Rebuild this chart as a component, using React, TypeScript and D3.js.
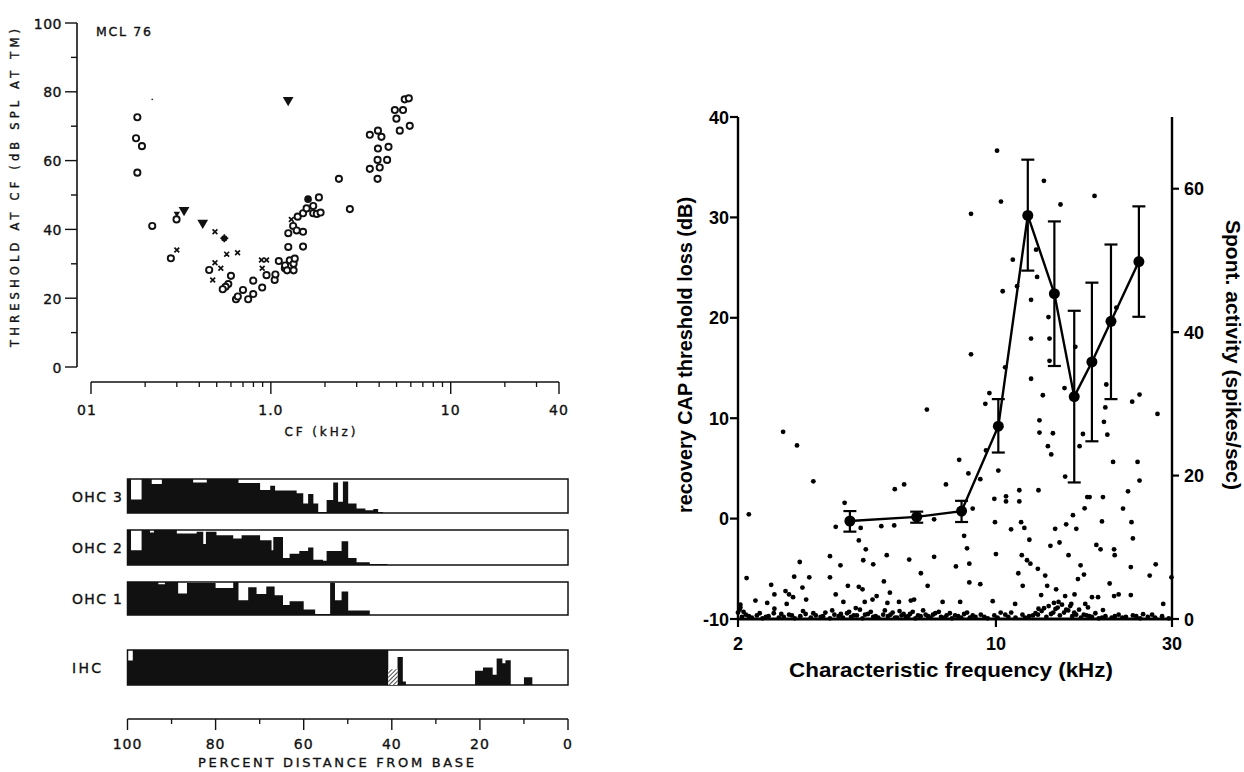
import React from "react";
import * as d3 from "d3";

// ================= Panel A: threshold at CF (MCL 76) =================
const openCircles: [number, number][] = [
  [0.181, 72.6], [0.178, 66.5], [0.192, 64.2], [0.181, 56.5], [0.219, 41.0], [0.299, 42.9],
  [0.278, 31.6], [0.454, 28.2], [0.6, 26.5], [0.58, 24.1], [0.56, 23.3], [0.54, 22.6],
  [0.64, 19.7], [0.655, 20.5], [0.7, 22.4], [0.748, 19.7], [0.798, 21.2], [0.798, 25.1],
  [0.895, 23.1], [0.946, 26.7], [1.05, 25.3], [1.06, 26.9], [1.107, 30.8], [1.196, 28.7],
  [1.2, 29.5], [1.231, 28.1], [1.274, 31.0], [1.25, 34.9], [1.25, 38.9], [1.338, 28.1],
  [1.338, 30.0], [1.358, 31.5], [1.33, 41.0], [1.392, 39.7], [1.41, 43.7], [1.51, 39.3],
  [1.51, 35.0], [1.51, 44.7], [1.58, 46.1], [1.72, 46.8], [1.72, 44.7], [1.8, 44.5],
  [1.89, 44.9], [1.85, 49.3], [2.39, 54.7], [2.75, 45.9], [3.55, 67.5], [3.94, 68.7],
  [4.12, 66.9], [3.94, 63.5], [4.51, 64.0], [3.92, 60.2], [4.43, 60.2], [3.55, 57.6],
  [4.03, 58.0], [3.92, 54.7], [4.89, 74.7], [5.43, 74.7], [4.99, 72.2], [5.21, 68.7],
  [5.92, 70.1], [5.55, 77.8], [5.85, 78.1],
];
const crosses: [number, number][] = [
  [0.3, 34.0], [0.489, 39.3], [0.568, 32.8], [0.653, 33.2], [0.475, 25.3], [0.489, 30.3],
  [0.527, 28.7], [0.887, 31.1], [0.946, 31.1], [0.895, 28.7], [1.3, 42.9],
];
const stars: [number, number][] = [[0.551, 37.4]];
const triangles: [number, number][] = [[0.329, 45.6], [0.418, 41.9], [1.248, 77.6], [0.3, 44.6]];
const filledCircles: [number, number][] = [[1.61, 48.8]];
const specks: [number, number][] = [[0.219, 77.8]];

const cfMajorTicks = [0.1, 1, 10, 40];
const cfMajorLabels = ["01", "1.0", "10", "40"];
const cfMinorTicks = [0.2, 0.3, 0.4, 0.5, 0.6, 0.7, 0.8, 0.9, 2, 3, 4, 5, 6, 7, 8, 9, 20, 30];
const thrTicks = [0, 10, 20, 30, 40, 50, 60, 70, 80, 90, 100];
const thrLabels = [0, 20, 40, 60, 80, 100];

// ================= Panel A lower: cochleogram =================
const ohc3Edges = [100, 99.2, 96.8, 94.5, 92.2, 85.1, 82.0, 74.8, 69.9, 67.6, 66.5, 61.6, 60.1, 59.0, 57.8, 56.7, 54.8, 53.3, 52.2, 51.1, 49.9, 48.0, 46.0, 44.2, 43.1, 42.0];
const ohc3Levels = [1.0, 0.4, 1.0, 0.85, 1.0, 0.9, 1.0, 0.88, 0.68, 0.8, 0.66, 0.58, 0.28, 0.56, 0.28, 0.03, 0.38, 0.9, 0.33, 0.93, 0.28, 0.13, 0.08, 0.12, 0.03];
const ohc2Edges = [100, 99.2, 96.8, 94.9, 94.0, 88.8, 84.3, 82.8, 82.2, 79.8, 76.0, 74.1, 69.9, 67.3, 66.9, 64.7, 63.2, 61.0, 59.0, 57.8, 55.6, 54.8, 51.4, 49.9, 48.0, 45.0, 41.0];
const ohc2Levels = [1.0, 0.42, 1.0, 0.93, 1.0, 0.9, 0.95, 0.6, 0.95, 0.85, 0.76, 0.85, 0.71, 0.42, 0.8, 0.2, 0.32, 0.4, 0.5, 0.15, 0.12, 0.4, 0.68, 0.2, 0.08, 0.03];
const ohc1Edges = [100, 93, 91.5, 88.5, 86.5, 80, 76, 74.8, 72.6, 70.7, 68.5, 66.6, 64.7, 63.2, 60, 57.4, 54, 52.9, 51.4, 49.9, 45];
const ohc1Levels = [1.0, 0.93, 1.0, 0.65, 0.97, 0.82, 1.0, 0.45, 0.84, 0.64, 0.86, 0.6, 0.3, 0.42, 0.17, 0.03, 0.98, 0.45, 0.71, 0.14];
const ihcEdges = [100, 98.8, 40.8, 38.7, 37.5, 36.8, 21.1, 19.3, 17.1, 16.2, 14.9, 14.2, 13.0, 10.0, 8.1];
const ihcLevels = [0.7, 1.0, 0, 0.8, 0.1, 0, 0.41, 0.5, 0.29, 0.76, 0.62, 0.71, 0, 0.22];
const ihcHatch: [number, number, number][] = [[40.8, 38.7, 0.45]];
const pctMajor = [100, 80, 60, 40, 20, 0];
const pctMinor = [90, 70, 50, 30, 10];

// ================= Panel B: recovery CAP loss / spont activity =================
const meanFreq = [4.02, 6.1, 8.07, 10.15, 12.2, 14.4, 16.3, 18.2, 20.5, 24.4];
const meanLoss = [-0.24, 0.17, 0.75, 9.21, 30.2, 22.4, 12.15, 15.6, 19.65, 25.6];
const errHigh = [0.75, 0.69, 1.77, 11.9, 35.75, 29.6, 20.7, 23.5, 27.3, 31.1];
const errLow = [-1.3, -0.41, -0.34, 6.58, 24.7, 15.2, 3.6, 7.7, 11.9, 20.1];

const spontLow: [number, number][] = [
  [2.11, 5.71], [2.14, 14.6], [2.03, 2.0], [2.03, 1.6], [2.23, 2.57], [2.4, 2.24], [2.46, 4.76], [2.51, 3.43],
  [2.51, 1.43], [2.65, 26.1], [2.69, 3.9], [2.71, 2.1], [2.75, 3.43], [2.82, 3.05], [2.84, 5.9], [2.89, 24.2],
  [2.94, 7.95], [2.99, 4.38], [3.06, 2.71], [3.12, 5.81], [3.2, 19.2], [3.55, 8.76], [3.55, 5.81], [3.68, 3.43],
  [3.68, 12.86], [3.79, 7.48], [3.89, 16.2], [3.86, 2.38], [3.97, 4.62], [4.17, 1.52], [4.25, 10.95], [4.25, 4.48],
  [4.3, 12.7], [4.35, 4.14], [4.37, 8.19], [4.44, 9.71], [4.41, 2.38], [4.63, 2.71], [4.65, 7.62], [4.75, 3.19],
  [4.89, 12.95], [4.97, 5.24], [5.06, 8.9], [5.08, 2.24], [5.16, 3.67], [5.3, 13.05], [5.32, 18.1], [5.46, 2.38],
  [5.64, 18.76], [5.82, 8.29], [5.88, 2.57], [6.0, 2.71], [6.26, 6.38], [6.5, 29.2], [6.53, 4.62], [6.8, 8.67],
  [6.8, 13.9], [7.17, 2.38], [7.32, 18.76], [7.79, 7.33], [7.95, 22.2], [8.0, 2.38], [8.2, 11.6], [8.35, 9.86],
  [8.42, 20.3], [8.47, 7.71], [8.47, 5.1],
];
const spontHigh: [number, number][] = [
  [8.56, 36.9], [8.65, 15.4], [8.56, 56.5], [9.07, 19.5], [9.07, 4.86], [9.36, 30], [9.4, 23.5], [9.6, 31.5],
  [9.8, 2.48], [9.9, 16.76], [9.94, 13.5], [10.0, 9.05], [10.07, 65.3], [10.15, 20.7], [10.32, 58.2], [10.43, 45.7],
  [10.65, 17.1], [10.65, 16.4], [10.59, 35.1], [10.99, 12.5], [11.11, 50.1], [11.27, 2.1], [11.41, 46.4], [11.57, 17.95],
  [11.57, 16.4], [11.75, 8.9], [11.7, 13.5], [11.82, 4.62], [11.5, 6.38], [11.94, 12.7], [12.14, 8.19], [12.4, 7.71],
  [12.45, 33.5], [12.45, 44.5], [12.45, 39.1], [12.32, 11.05], [12.85, 51.5], [12.93, 47.7], [12.99, 7.0], [13.04, 1.43],
  [13.04, 17.95], [13.12, 27.7], [13.12, 26.0], [13.26, 3.33], [13.4, 31.2], [13.49, 61.1], [13.6, 6.05], [13.77, 4.62],
  [13.83, 24.1], [13.88, 42.1], [13.97, 39.1], [13.97, 36.0], [14.05, 10.2], [14.12, 22.95], [14.27, 25.9], [14.36, 2.24],
  [14.47, 12.57], [14.56, 4.14], [14.87, 10.67], [14.78, 2.38], [14.96, 57.8], [15.34, 32.2], [15.4, 19.86], [15.5, 13.2],
  [15.4, 3.19], [15.73, 8.9], [16.0, 2.1], [16.17, 14.48], [16.33, 3.43], [16.51, 12.57], [16.41, 37.95], [16.68, 5.57],
  [16.85, 24.1], [16.96, 7.48], [17.21, 25.8], [17.32, 6.19], [17.39, 15.43], [17.68, 17.0], [17.46, 2.1], [17.76, 1.62],
  [17.94, 17.0], [18.21, 3.05], [18.71, 10.33], [18.91, 3.05], [19.21, 9.71], [19.38, 13.6], [19.5, 1.24], [19.5, 17.0],
  [19.62, 27.5], [19.79, 29.5], [19.91, 32.7], [20.04, 25.7], [20.33, 4.95], [20.77, 21.9], [20.9, 3.19], [20.9, 9.71],
  [20.98, 8.9], [21.2, 43.4], [21.5, 3.43], [22.1, 15.4], [22.8, 17.8], [23.2, 3.33], [23.2, 7.24], [23.3, 13.5],
  [23.5, 11.24], [23.4, 30.3], [24.2, 21.9], [24.5, 31.3], [24.5, 19.3], [25.05, 0.67], [26.1, 6.05], [27.1, 7.62],
  [27.4, 28.6], [28.4, 2.1], [29.9, 5.81], [18.5, 59.0],
];
const spontBaseline: [number, number][] = [
  [2.0, 0.9], [2.05, 0.3], [2.1, 0.6], [2.18, 0.2], [2.25, 0.5], [2.33, 0.1], [2.42, 0.4], [2.5, 0.8], [2.58, 0.2], [2.66, 0.3],
  [2.75, 0.6], [2.85, 0.1], [2.95, 0.4], [3.05, 0.7], [3.15, 0.2], [3.25, 0.5], [3.35, 0.3], [3.45, 0.9], [3.55, 0.1], [3.65, 0.6],
  [3.75, 0.4], [3.85, 0.2], [3.95, 0.8], [4.05, 0.3], [4.2, 0.5], [4.35, 0.1], [4.5, 0.7], [4.65, 0.3], [4.8, 0.2], [4.95, 0.6],
  [5.1, 0.4], [5.25, 0.9], [5.4, 0.2], [5.55, 0.5], [5.7, 0.3], [5.85, 0.7], [6.05, 0.1], [6.25, 0.4], [6.45, 0.6], [6.65, 0.2],
  [6.85, 0.8], [7.1, 0.3], [7.35, 0.5], [7.6, 0.1], [7.9, 0.4], [8.2, 0.7], [8.5, 0.2], [8.8, 0.3], [9.1, 0.6], [9.5, 0.1],
  [9.9, 0.5], [10.3, 0.9], [10.8, 0.3], [11.3, 0.2], [11.8, 0.6], [12.3, 0.4], [12.8, 0.8], [13.3, 1.1], [13.7, 0.3], [14.1, 0.7],
  [14.5, 1.4], [14.9, 0.5], [15.3, 0.9], [15.7, 1.2], [16.1, 0.4], [16.5, 0.6], [17.0, 0.2], [17.6, 0.5], [18.2, 0.3], [19.0, 0.1],
  [19.8, 0.4], [20.6, 0.2], [21.5, 0.6], [22.5, 0.3], [23.5, 0.5], [24.6, 0.1], [25.8, 0.3], [27.0, 0.2], [28.2, 0.4], [29.4, 0.1],
];
const spontBaseline2: [number, number][] = [
  [2.02, 1.3], [2.07, 1.0], [2.14, 0.4], [2.29, 0.8], [2.38, 0.3], [2.62, 0.7], [2.8, 0.5], [3.0, 1.1], [3.2, 0.8], [3.4, 0.4],
  [3.6, 1.2], [3.8, 0.7], [4.0, 1.0], [4.12, 0.5], [4.28, 1.3], [4.42, 0.6], [4.58, 1.0], [4.72, 0.4], [5.0, 1.2], [5.18, 0.6],
  [5.33, 0.2], [5.48, 1.1], [5.62, 0.7], [5.78, 0.4], [5.95, 1.0], [6.15, 0.5], [6.35, 1.2], [6.55, 0.4], [6.75, 0.6], [7.0, 1.0],
  [7.25, 0.2], [7.5, 0.8], [7.75, 0.5], [8.05, 0.2], [8.35, 0.9], [8.65, 0.5], [9.3, 0.3], [10.1, 0.2], [10.6, 0.6], [11.0, 0.9],
  [12.0, 0.2], [12.6, 0.5], [13.0, 0.6], [13.5, 1.5], [13.9, 1.8], [14.3, 0.9], [14.7, 1.6], [15.1, 2.0], [15.5, 1.3], [15.9, 1.8],
  [16.3, 0.9], [16.8, 1.3], [17.3, 0.6], [17.9, 0.4], [18.6, 0.8], [19.4, 0.2], [21.0, 0.4], [22.0, 0.2], [24.0, 0.4], [26.5, 0.6],
];
const cfTicksB = [2, 10, 30];
const lossTicks = [-10, 0, 10, 20, 30, 40];
const spontTicks = [0, 20, 40, 60];

// ================= scales =================
const xA = d3.scaleLog().domain([0.1, 40]).range([91, 559]);
const yA = d3.scaleLinear().domain([0, 100]).range([367, 23]);
const xP = d3.scaleLinear().domain([100, 0]).range([127.5, 568]);
const xB = d3.scaleLog().domain([2, 30]).range([738, 1172]);
const yBL = d3.scaleLinear().domain([-10, 40]).range([619, 117]);
const yBR = d3.scaleLinear().domain([0, 70]).range([619, 117]);

const oldFont = "'DejaVu Sans', Verdana, sans-serif";
const newFont = "'Liberation Sans', Arial, Helvetica, sans-serif";

const rows = [
  { label: "OHC 3", top: 479, bottom: 513, edges: ohc3Edges, levels: ohc3Levels },
  { label: "OHC 2", top: 530, bottom: 565, edges: ohc2Edges, levels: ohc2Levels },
  { label: "OHC 1", top: 582, bottom: 615, edges: ohc1Edges, levels: ohc1Levels },
  { label: "IHC", top: 650, bottom: 685, edges: ihcEdges, levels: ihcLevels },
];

function stepPath(edges: number[], levels: number[], top: number, bottom: number) {
  const pts: [number, number][] = edges.map((e, i) => [e, i < levels.length ? levels[i] : 0]);
  const area = d3
    .area<[number, number]>()
    .x((d) => xP(d[0]))
    .y0(bottom)
    .y1((d) => bottom - d[1] * (bottom - top))
    .curve(d3.curveStepAfter);
  return area(pts) || "";
}

const triPath = d3.symbol().type(d3.symbolTriangle).size(50)() || "";

export default function App() {
  const meanLine = d3
    .line<number>()
    .x((_, i) => xB(meanFreq[i]))
    .y((d) => yBL(d))(meanLoss) || "";

  const txtStroke = { stroke: "#111", strokeWidth: 0.35 };

  return (
    <svg
      width={1244}
      height={772}
      viewBox="0 0 1244 772"
      style={{ position: "absolute", left: 0, top: 0, background: "#fff" }}
    >
      <defs>
        <pattern id="hatch" width="3" height="3" patternUnits="userSpaceOnUse" patternTransform="rotate(45)">
          <rect width="3" height="3" fill="#fff" />
          <line x1="0" y1="0" x2="0" y2="3" stroke="#000" strokeWidth="1.4" />
        </pattern>
      </defs>
      <rect x={0} y={0} width={1244} height={772} fill="#fff" />

      {/* ---------- Panel A (upper) ---------- */}
      <g fontFamily={oldFont} fill="#111">
        <line x1={77} y1={yA(100)} x2={77} y2={yA(0)} stroke="#111" strokeWidth={1.6} />
        {thrTicks.map((t) => (
          <line key={"yt" + t} x1={t % 20 === 0 ? 65 : 71} x2={77} y1={yA(t)} y2={yA(t)} stroke="#111" strokeWidth={1.4} />
        ))}
        {thrLabels.map((t) => (
          <text key={"yl" + t} x={62} y={yA(t) + 5.5} fontSize={14} textAnchor="end" letterSpacing={0.5} {...txtStroke}>
            {t}
          </text>
        ))}
        <text
          transform={`translate(19,${188}) rotate(-90)`}
          fontSize={11.5}
          textAnchor="middle"
          textLength={318}
          lengthAdjust="spacing"
          {...txtStroke}
        >
          THRESHOLD AT CF (dB SPL AT TM)
        </text>
        <text x={96} y={36} fontSize={12.5} textLength={55} lengthAdjust="spacing" {...txtStroke}>
          MCL 76
        </text>

        <line x1={xA(0.1)} x2={xA(40)} y1={382} y2={382} stroke="#111" strokeWidth={1.5} />
        {cfMajorTicks.map((t) => (
          <line key={"xm" + t} x1={xA(t)} x2={xA(t)} y1={382} y2={394} stroke="#111" strokeWidth={1.4} />
        ))}
        {cfMinorTicks.map((t) => (
          <line key={"xn" + t} x1={xA(t)} x2={xA(t)} y1={382} y2={387} stroke="#111" strokeWidth={1.3} />
        ))}
        {cfMajorTicks.map((t, i) => (
          <text key={"xl" + t} x={xA(t) - (i === 0 ? 4 : 0)} y={415} fontSize={14} textAnchor="middle" letterSpacing={1} {...txtStroke}>
            {cfMajorLabels[i]}
          </text>
        ))}
        <text x={320} y={436} fontSize={12} textAnchor="middle" textLength={71} lengthAdjust="spacing" {...txtStroke}>
          CF (kHz)
        </text>

        {openCircles.map((d, i) => (
          <circle key={"oc" + i} cx={xA(d[0])} cy={yA(d[1])} r={3.1} fill="#fff" stroke="#111" strokeWidth={1.9} />
        ))}
        {crosses.map((d, i) => (
          <path
            key={"cx" + i}
            d={`M${xA(d[0]) - 2.4},${yA(d[1]) - 2.4}L${xA(d[0]) + 2.4},${yA(d[1]) + 2.4}M${xA(d[0]) - 2.4},${yA(d[1]) + 2.4}L${xA(d[0]) + 2.4},${yA(d[1]) - 2.4}`}
            stroke="#111"
            strokeWidth={1.7}
          />
        ))}
        {stars.map((d, i) => (
          <g key={"st" + i}>
            <circle cx={xA(d[0])} cy={yA(d[1])} r={3.2} fill="#111" />
            <path
              d={`M${xA(d[0]) - 4},${yA(d[1])}L${xA(d[0]) + 4},${yA(d[1])}M${xA(d[0])},${yA(d[1]) - 4}L${xA(d[0])},${yA(d[1]) + 4}`}
              stroke="#111"
              strokeWidth={1.5}
            />
          </g>
        ))}
        {triangles.map((d, i) => (
          <path
            key={"tr" + i}
            d={triPath}
            transform={`translate(${xA(d[0])},${yA(d[1])}) rotate(180) scale(${i === 3 ? 0.6 : 1})`}
            fill="#111"
          />
        ))}
        {filledCircles.map((d, i) => (
          <circle key={"fc" + i} cx={xA(d[0])} cy={yA(d[1])} r={3.8} fill="#111" />
        ))}
        {specks.map((d, i) => (
          <circle key={"sp" + i} cx={xA(d[0])} cy={yA(d[1])} r={0.9} fill="#333" />
        ))}
      </g>

      {/* ---------- Panel A (lower): cochleogram ---------- */}
      <g fontFamily={oldFont} fill="#111">
        {rows.map((r) => (
          <g key={r.label}>
            <path d={stepPath(r.edges, r.levels, r.top, r.bottom)} fill="#111" />
            <rect
              x={xP(100)}
              y={r.top}
              width={xP(0) - xP(100)}
              height={r.bottom - r.top}
              fill="none"
              stroke="#111"
              strokeWidth={1.5}
            />
            <text
              x={72}
              y={(r.top + r.bottom) / 2 + 5.5}
              fontSize={14}
              textLength={r.label === "IHC" ? 29 : 50}
              lengthAdjust="spacing"
              {...txtStroke}
            >
              {r.label}
            </text>
          </g>
        ))}
        {ihcHatch.map((h, i) => (
          <rect
            key={"h" + i}
            x={xP(h[0])}
            y={685 - h[2] * 35}
            width={xP(h[1]) - xP(h[0])}
            height={h[2] * 35}
            fill="url(#hatch)"
          />
        ))}
        <line x1={xP(100)} x2={xP(0)} y1={719} y2={719} stroke="#111" strokeWidth={1.5} />
        {pctMajor.map((t) => (
          <line key={"pm" + t} x1={xP(t)} x2={xP(t)} y1={719} y2={730} stroke="#111" strokeWidth={1.4} />
        ))}
        {pctMinor.map((t) => (
          <line key={"pn" + t} x1={xP(t)} x2={xP(t)} y1={719} y2={724} stroke="#111" strokeWidth={1.3} />
        ))}
        {pctMajor.map((t) => (
          <text key={"pl" + t} x={xP(t)} y={749} fontSize={14} textAnchor="middle" letterSpacing={1} {...txtStroke}>
            {t}
          </text>
        ))}
        <text x={336} y={767} fontSize={13} textAnchor="middle" textLength={276} lengthAdjust="spacing" {...txtStroke}>
          PERCENT DISTANCE FROM BASE
        </text>
      </g>

      {/* ---------- Panel B ---------- */}
      <g fontFamily={newFont} fontWeight="bold" fill="#000">
        {[...spontBaseline, ...spontBaseline2, ...spontLow, ...spontHigh].map((d, i) => (
          <circle key={"d" + i} cx={xB(d[0])} cy={yBR(d[1])} r={2.4} fill="#000" />
        ))}

        <line x1={738} x2={738} y1={yBL(40)} y2={yBL(-10)} stroke="#000" strokeWidth={2.4} />
        <line x1={1172} x2={1172} y1={yBL(40)} y2={yBL(-10)} stroke="#000" strokeWidth={2.4} />
        <line x1={xB(2)} x2={xB(30)} y1={yBL(-10)} y2={yBL(-10)} stroke="#000" strokeWidth={2.8} />
        {lossTicks.map((t) => (
          <g key={"lt" + t}>
            <line x1={730} x2={738} y1={yBL(t)} y2={yBL(t)} stroke="#000" strokeWidth={2.2} />
            <text x={729} y={yBL(t) + 6.5} fontSize={18} textAnchor="end">
              {t}
            </text>
          </g>
        ))}
        {spontTicks.map((t) => (
          <g key={"rt" + t}>
            <line x1={1172} x2={1179} y1={yBR(t)} y2={yBR(t)} stroke="#000" strokeWidth={2.2} />
            <text x={1184} y={yBR(t) + 6.5} fontSize={18}>
              {t}
            </text>
          </g>
        ))}
        {cfTicksB.map((t) => (
          <g key={"bt" + t}>
            <line x1={xB(t)} x2={xB(t)} y1={619} y2={627} stroke="#000" strokeWidth={2.2} />
            <text x={xB(t)} y={650} fontSize={18} textAnchor="middle">
              {t}
            </text>
          </g>
        ))}
        <text x={951} y={677} fontSize={21} textAnchor="middle" textLength={324} lengthAdjust="spacingAndGlyphs">
          Characteristic frequency (kHz)
        </text>
        <text
          transform={`translate(692,${355}) rotate(-90)`}
          fontSize={20}
          textAnchor="middle"
          textLength={316}
          lengthAdjust="spacingAndGlyphs"
        >
          recovery CAP threshold loss (dB)
        </text>
        <text
          transform={`translate(1226,${355}) rotate(90)`}
          fontSize={20}
          textAnchor="middle"
          textLength={270}
          lengthAdjust="spacingAndGlyphs"
        >
          Spont. activity (spikes/sec)
        </text>

        <path d={meanLine} fill="none" stroke="#000" strokeWidth={2.4} />
        {meanFreq.map((f, i) => (
          <g key={"m" + i}>
            <line x1={xB(f)} x2={xB(f)} y1={yBL(errHigh[i])} y2={yBL(errLow[i])} stroke="#000" strokeWidth={2.2} />
            <line x1={xB(f) - 6.5} x2={xB(f) + 6.5} y1={yBL(errHigh[i])} y2={yBL(errHigh[i])} stroke="#000" strokeWidth={2.2} />
            <line x1={xB(f) - 6.5} x2={xB(f) + 6.5} y1={yBL(errLow[i])} y2={yBL(errLow[i])} stroke="#000" strokeWidth={2.2} />
            <circle cx={xB(f)} cy={yBL(meanLoss[i])} r={5.5} fill="#000" />
          </g>
        ))}
      </g>
    </svg>
  );
}
